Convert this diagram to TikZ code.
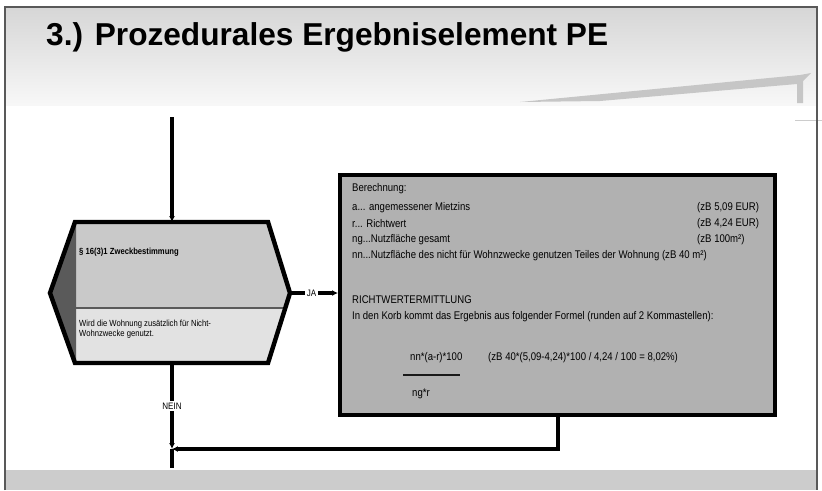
\documentclass[tikz,border=0pt]{standalone}
\usepackage{fontspec}
\setmainfont{Liberation Sans}
\newfontfamily\narrowfont[FakeStretch=0.86]{Liberation Sans}
\usetikzlibrary{arrows.meta,positioning}
\definecolor{boxgray}{HTML}{B1B1B1}
\definecolor{hexupper}{HTML}{C9C9C9}
\definecolor{hexlower}{HTML}{E2E2E2}
\definecolor{hexdark}{HTML}{5A5A5A}
\begin{document}
\begin{tikzpicture}[x=0.03cm,y=-0.03cm,
  conn/.style={line width=3pt,black},
  arr/.style={-{Latex[length=5pt,width=5pt]}},
  lbl/.style={font=\narrowfont\fontsize{8}{9}\selectfont,fill=white,inner sep=1.5pt},
  txt/.style={font=\narrowfont\fontsize{9.5}{10}\selectfont,anchor=west,inner sep=0pt},
  hextxt/.style={font=\narrowfont\fontsize{7.6}{9}\selectfont,anchor=west,inner sep=0pt,align=left}]
\useasboundingbox (0,0) rectangle (822,490);
\fill[white] (0,0) rectangle (822,490);
% slide header and footer
\shade[top color=gray!32,bottom color=gray!6] (5,7) rectangle (817,105);
\fill[gray!40] (5,470) rectangle (817,490);
\fill[gray!45] (520,102) -- (800,75) -- (811,73) -- (803,81) -- (803,103) -- (797,103) -- (797,84) -- (600,101) -- cycle;
\draw[gray!40,line width=0.8pt] (795,120) -- (822,120);
\draw[gray!70!black,line width=1.5pt] (5,490) -- (5,7) -- (817,7) -- (817,490);
\node[anchor=base west,font=\bfseries\fontsize{27}{30}\selectfont,inner sep=0pt] (title) at (46,45) {3.) Prozedurales Ergebniselement PE};

% decision hexagon
\fill[hexupper] (75,224) -- (268,224) -- (290,293) -- (285,308) -- (75,308) -- cycle;
\fill[hexlower] (75,308) -- (285,308) -- (268,362) -- (75,362) -- cycle;
\fill[hexdark] (76,224) -- (50,293) -- (76,362) -- cycle;
\draw[hexdark,line width=1.2pt] (75,308) -- (285,308);
\draw[black,line width=3.8pt,line join=miter] (75,222) -- (268,222) -- (290,293) -- (268,363) -- (75,363) -- (50,293) -- cycle;
\coordinate (hexN) at (172,222);
\coordinate (hexE) at (290,293);
\coordinate (hexS) at (172,363);
\node[hextxt,font=\narrowfont\bfseries\fontsize{7.6}{9}\selectfont] (zweck) at (79,252) {§ 16(3)1 Zweckbestimmung};
\node[hextxt] (frage) at (79,329) {Wird die Wohnung zusätzlich für Nicht-\\Wohnzwecke genutzt.};

% calculation box
\node[draw=black,fill=boxgray,line width=3.8pt,minimum width=13.05cm,minimum height=7.2cm,anchor=north west,inner sep=0pt] (calc) at (338,173) {};
\node[txt] (ber) at (352,189) {Berechnung:};
\node[txt] (va) at (352,208) {a... angemessener Mietzins};
\node[txt] (vr) at (352,224) {r... Richtwert};
\node[txt] (vng) at (352,240) {ng...Nutzfläche gesamt};
\node[txt] (vnn) at (352,256) {nn...Nutzfläche des nicht für Wohnzwecke genutzen Teiles der Wohnung (zB 40 m²)};
\node[txt] (za) at (697,208) {(zB 5,09 EUR)};
\node[txt] (zr) at (697,224) {(zB 4,24 EUR)};
\node[txt] (zng) at (697,240) {(zB 100m²)};
\node[txt] (rw) at (352,300) {RICHTWERTERMITTLUNG};
\node[txt] (korb) at (352,317) {In den Korb kommt das Ergebnis aus folgender Formel (runden auf 2 Kommastellen):};
\node[txt] (zaehler) at (410,358) {nn*(a-r)*100};
\node[txt] (bsp) at (488,358) {(zB 40*(5,09-4,24)*100 / 4,24 / 100 = 8,02\%)};
\draw[gray!20!black,line width=1pt] (403,375) -- (460,375);
\node[txt] (nenner) at (412,394) {ng*r};

% connectors
\coordinate (start) at (172,117);
\coordinate (join) at (172,449);
\coordinate (end) at (172,468);
\draw[conn,arr] (start) -- (hexN);
\draw[conn,arr] (hexE) -- node[lbl,pos=0.45] {JA} (calc.west |- hexE);
\draw[conn,arr] (hexS) -- node[lbl,pos=0.5] {NEIN} (join);
\draw[conn] (join) -- (end);
\draw[conn,arr] (calc.south) |- (join);
\end{tikzpicture}
\end{document}
